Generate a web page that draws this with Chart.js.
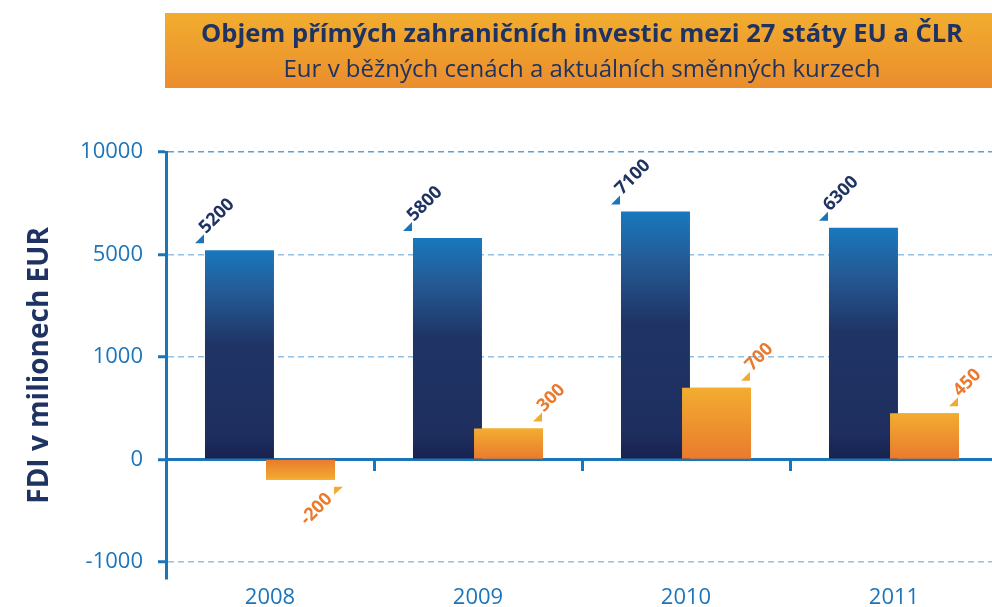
<!DOCTYPE html>
<html lang="cs">
<head>
<meta charset="utf-8">
<title>Objem přímých zahraničních investic mezi 27 státy EU a ČLR</title>
<script src="https://cdn.jsdelivr.net/npm/chart.js@4"></script>
<style>
  html, body { margin: 0; padding: 0; background: #fff; overflow: hidden; }
  canvas { display: block; }
</style>
</head>
<body>
<canvas id="fdi-chart" width="998" height="607"></canvas>
<script>
// hodnoty (mil. EUR)
const years = ['2008', '2009', '2010', '2011'];
const series1 = [5200, 5800, 7100, 6300];   // modré sloupce
const series2 = [-200, 300, 700, 450];      // oranžové sloupce
const yTickValues = [-1000, 0, 1000, 5000, 10000];

const titleText = 'Objem přímých zahraničních investic mezi 27 státy EU a ČLR';
const subtitleText = 'Eur v běžných cenách a aktuálních směnných kurzech';
const axisTitle = 'FDI v milionech EUR';

const NAVY = '#1f3363';
const BLUE = '#1b75bb';

// osa y neni linearni: dilky -1000, 0, 1000, 5000, 10000 maji stejny rozestup
function toAxis(v) {
  const n = yTickValues.length;
  for (let i = 0; i < n - 1; i++) {
    const a = yTickValues[i], b = yTickValues[i + 1];
    if (v <= b || i === n - 2) return i - 1 + (v - a) / (b - a);
  }
}

function barFill(stops) {
  return function (context) {
    const chart = context.chart;
    if (!chart.chartArea || context.parsed == null) return stops[0][1];
    const y = chart.scales.y;
    const base = y.getPixelForValue(0);
    const tip = y.getPixelForValue(context.parsed.y);
    if (Math.abs(tip - base) < 1) return stops[0][1];
    const g = chart.ctx.createLinearGradient(0, base, 0, tip);
    stops.forEach(s => g.addColorStop(s[0], s[1]));
    return g;
  };
}

const bannerPlugin = {
  id: 'banner',
  beforeDraw(chart) {
    const ctx = chart.ctx;
    const left = chart.chartArea.left - 1;
    const g = ctx.createLinearGradient(0, 13, 0, 88);
    g.addColorStop(0, '#f1ad2f');
    g.addColorStop(1, '#eb8d2d');
    ctx.save();
    ctx.fillStyle = g;
    ctx.fillRect(left, 13, chart.width - left, 75);
    ctx.restore();
  }
};

const labelPlugin = {
  id: 'barLabels',
  afterDatasetsDraw(chart) {
    const ctx = chart.ctx;
    const area = chart.chartArea;
    // oranzove sloupce prekryvaji modre
    ctx.save();
    ctx.beginPath();
    ctx.rect(area.left, area.top, area.right - area.left, area.bottom - area.top);
    ctx.clip();
    chart.getDatasetMeta(1).data.forEach(bar => bar.draw(ctx));
    ctx.restore();

    const raw = [series1, series2];
    const marks = [BLUE, '#f2ab30'];
    const texts = [NAVY, '#ea7a2e'];
    raw.forEach((values, di) => {
      chart.getDatasetMeta(di).data.forEach((bar, i) => {
        const v = values[i];
        const half = bar.width / 2;
        const ax = di === 0 ? bar.x - half : bar.x + half;
        const ay = bar.y;
        ctx.save();
        ctx.fillStyle = marks[di];
        ctx.beginPath();
        if (v >= 0) {
          ctx.moveTo(ax - 10, ay - 7);
          ctx.lineTo(ax - 1, ay - 7);
          ctx.lineTo(ax - 1, ay - 16);
        } else {
          ctx.moveTo(ax - 1, ay + 7);
          ctx.lineTo(ax + 8, ay + 7);
          ctx.lineTo(ax - 1, ay + 15);
        }
        ctx.closePath();
        ctx.fill();
        ctx.font = 'bold 18px "Open Sans"';
        ctx.fillStyle = texts[di];
        ctx.textBaseline = 'alphabetic';
        if (v >= 0) {
          ctx.translate(ax + 1, ay - 16);
          ctx.textAlign = 'left';
        } else {
          ctx.translate(ax - 2, ay + 20);
          ctx.textAlign = 'right';
        }
        ctx.rotate(-Math.PI / 4);
        ctx.fillText(String(v), 0, 0);
        ctx.restore();
      });
    });
  }
};

Chart.defaults.font.family = '"Open Sans", sans-serif';

const ctx = document.getElementById('fdi-chart').getContext('2d');
new Chart(ctx, {
  type: 'bar',
  data: {
    labels: years,
    datasets: [{
      data: series1.map(toAxis),
      backgroundColor: barFill([[0, '#172250'], [0.12, '#1e2f5f'], [0.55, '#1f3465'], [0.8, '#245a95'], [1, '#1878bd']]),
      categoryPercentage: 0.587,
      barPercentage: 1.13
    }, {
      data: series2.map(toAxis),
      backgroundColor: barFill([[0, '#ea7a2e'], [1, '#f2ad30']]),
      categoryPercentage: 0.587,
      barPercentage: 1.13
    }]
  },
  options: {
    responsive: false,
    animation: false,
    layout: { padding: 0 },
    plugins: {
      legend: { display: false },
      tooltip: { enabled: false },
      title: {
        display: true, text: titleText, color: NAVY, fullSize: false,
        font: { size: 25.5, weight: 'bold', lineHeight: 1.2 },
        padding: { top: 19.5, bottom: 0 }
      },
      subtitle: {
        display: true, text: subtitleText, color: NAVY, fullSize: false,
        font: { size: 24, lineHeight: 1.2 },
        padding: { top: 5.4, bottom: 67.7 }
      }
    },
    scales: {
      x: {
        afterFit: s => { s.height = 27; },
        grid: { display: false, drawTicks: false },
        border: { display: false },
        ticks: { color: BLUE, font: { size: 22, lineHeight: 1 }, padding: 8 }
      },
      x2: {
        type: 'category',
        position: { y: 0 },
        offset: true,
        grid: { offset: true, drawOnChartArea: false, tickLength: 10, tickWidth: 3, tickColor: BLUE },
        border: { color: BLUE, width: 3 },
        ticks: { display: false }
      },
      y: {
        min: -1.166,
        max: 3,
        afterBuildTicks: s => { s.ticks = yTickValues.map((v, i) => ({ value: i - 1 })); },
        afterFit: s => { s.width = 166; },
        ticks: {
          color: BLUE,
          font: { size: 22 },
          padding: 15,
          callback: (value, index) => String(yTickValues[index])
        },
        grid: {
          color: c => {
            if (!c.tick) return '#92c0e4';
            if (c.tick.value === 0) return 'rgba(0,0,0,0)';
            return c.tick.value === 3 ? '#5aa2d9' : '#92c0e4';
          },
          lineWidth: 1.5,
          tickLength: 8,
          tickWidth: 3,
          tickColor: BLUE
        },
        border: { color: BLUE, width: 3, dash: [6, 4] },
        title: {
          display: true, text: axisTitle, color: NAVY,
          font: { size: 28, weight: 'bold', lineHeight: 1.2 },
          padding: { top: 23, bottom: 0 }
        }
      }
    }
  },
  plugins: [bannerPlugin, labelPlugin]
});
</script>
</body>
</html>
